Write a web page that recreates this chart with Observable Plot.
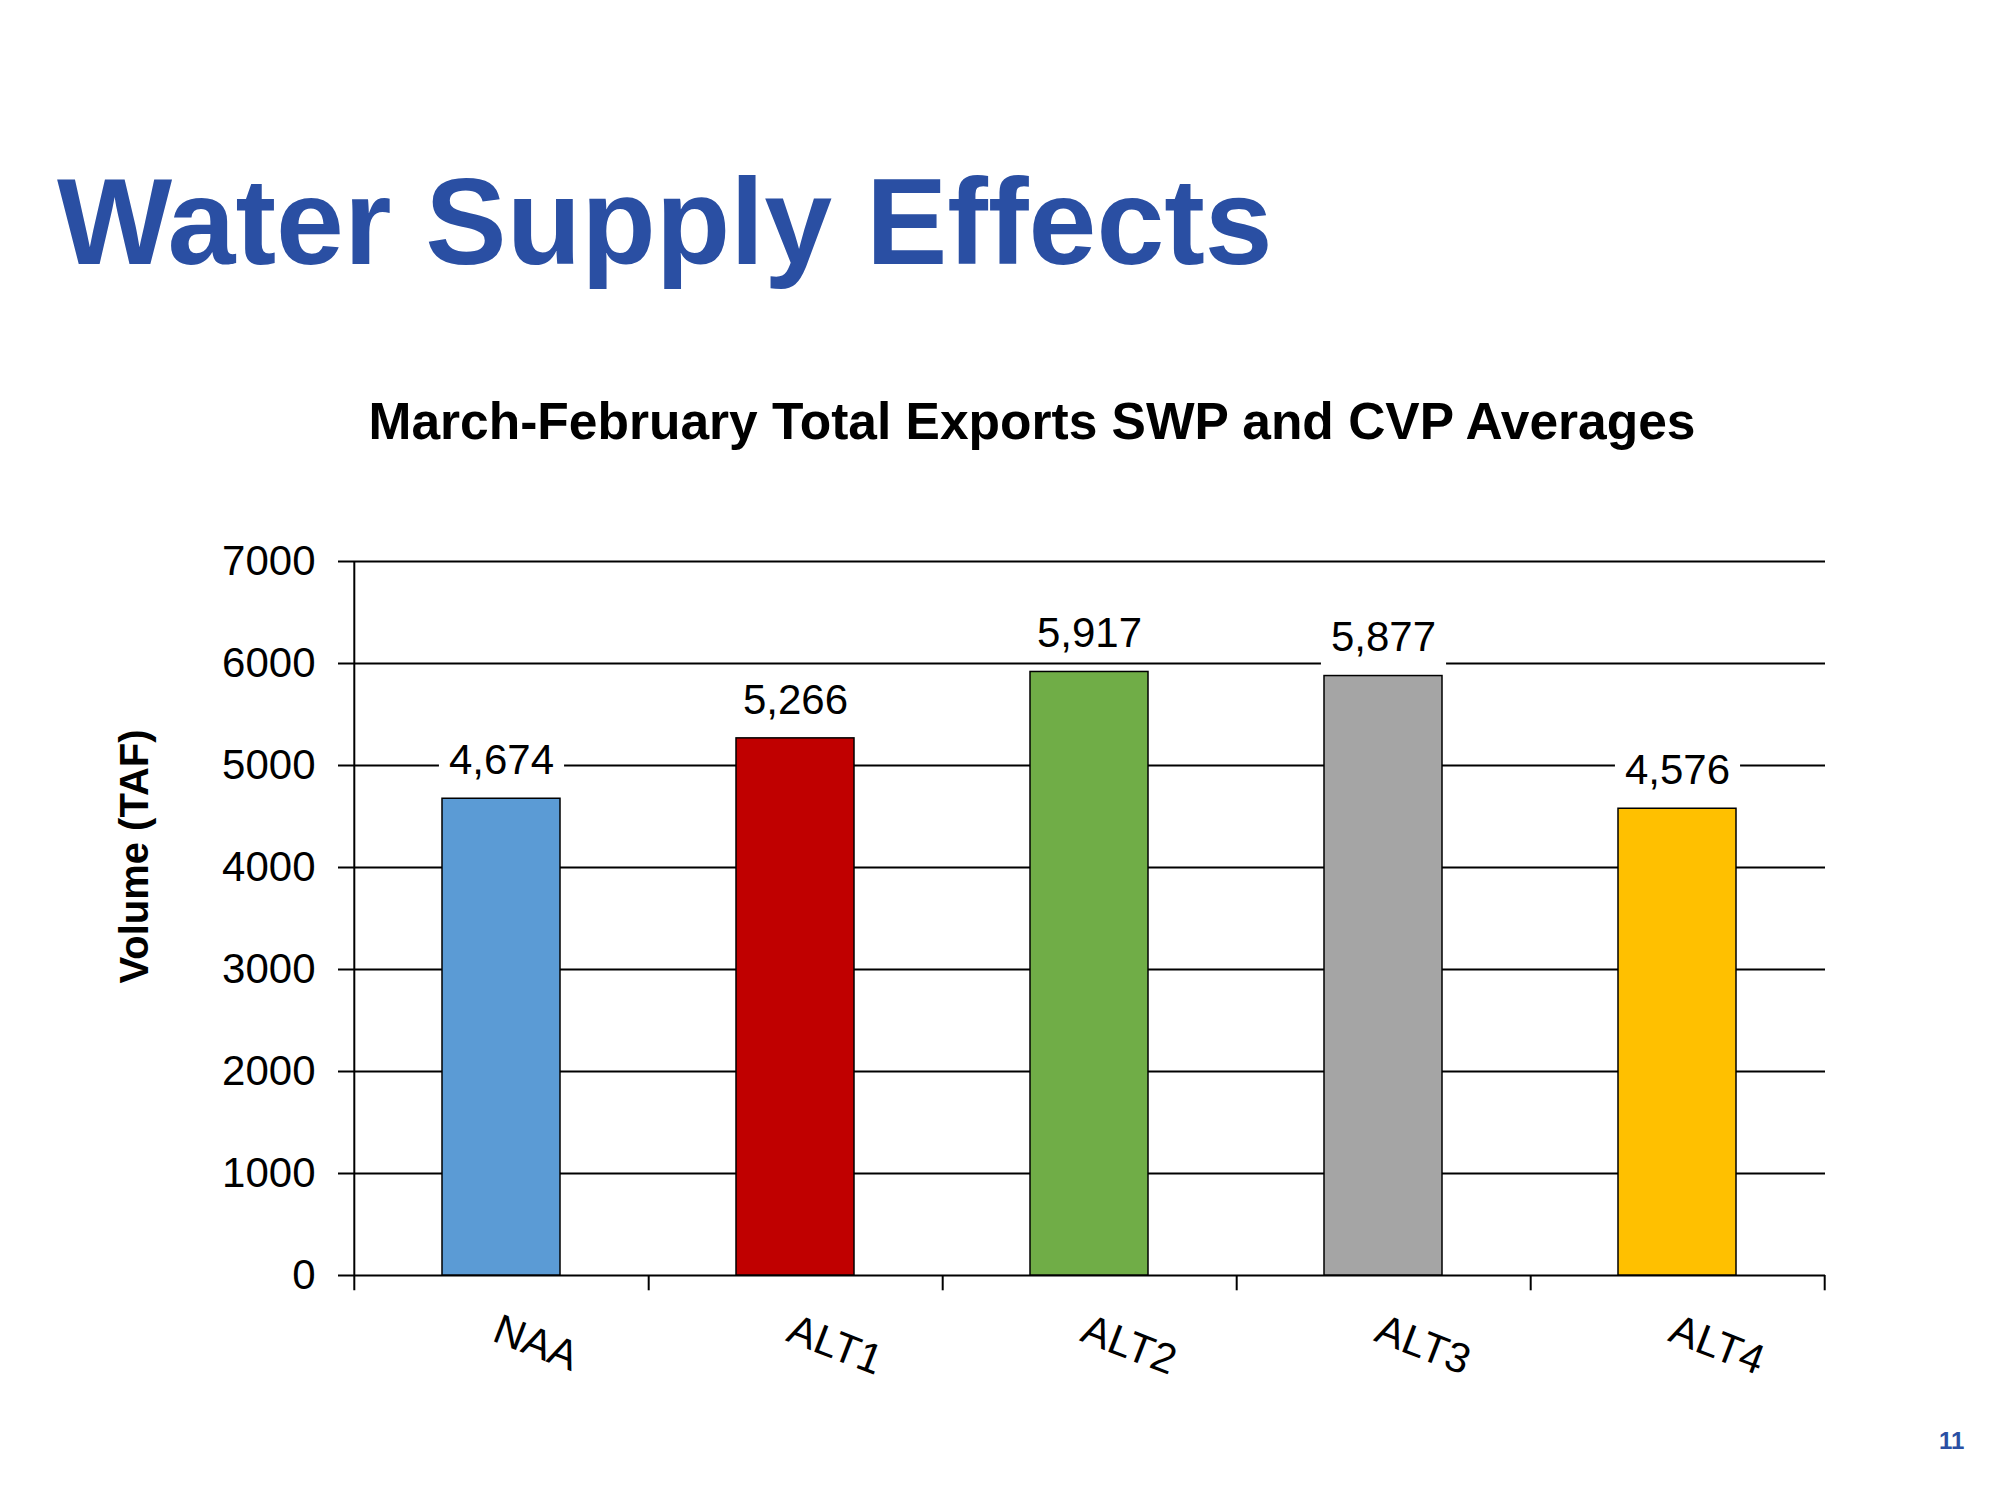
<!DOCTYPE html>
<html>
<head>
<meta charset="utf-8">
<script src="https://cdn.jsdelivr.net/npm/d3@7"></script>
<script src="https://cdn.jsdelivr.net/npm/@observablehq/plot@0.6"></script>
<style>
  html, body { margin: 0; padding: 0; background: #fff; overflow: hidden; }
  #page { position: relative; width: 2000px; height: 1500px; background: #fff; font-family: "Liberation Sans", Arial, sans-serif; }
  .title { position: absolute; left: 57px; top: 161px; font-size: 122px; line-height: 1; font-weight: bold; color: #2A4FA3; white-space: nowrap; }
  .subtitle { position: absolute; left: 1032px; top: 396px; transform: translateX(-50%); font-size: 51.5px; line-height: 1; font-weight: bold; color: #000; white-space: nowrap; }
  .pagenum { position: absolute; left: 1939px; top: 1429px; font-size: 24px; line-height: 1; font-weight: bold; color: #2A4FA3; }
  #chart { position: absolute; left: 0; top: 0; }
</style>
</head>
<body>
<div id="page">
  <div id="chart"></div>
  <div class="title">Water Supply Effects</div>
  <div class="subtitle">March-February Total Exports SWP and CVP Averages</div>
  <div class="pagenum">11</div>
</div>
<script>
const categories = ["NAA", "ALT1", "ALT2", "ALT3", "ALT4"];
const values = [4674, 5266, 5917, 5877, 4576];
const colors = ["#5B9BD5", "#C00000", "#70AD47", "#A5A5A5", "#FFC000"];
const yTicks = [0, 1000, 2000, 3000, 4000, 5000, 6000, 7000];
const yLabel = "Volume (TAF)";

const data = categories.map((c, i) => ({cat: c, value: values[i], color: colors[i]}));
const fmt = d3.format(",");
const labelStrings = new Set(values.map(v => fmt(v)));

const W = 2000, H = 1500;
const mL = 353, mR = 175, mT = 561, mB = 225;
const step = (W - mL - mR) / categories.length;
const font = "Liberation Sans, Arial, sans-serif";

const chart = Plot.plot({
  width: W,
  height: H,
  marginLeft: mL,
  marginRight: mR,
  marginTop: mT,
  marginBottom: mB,
  style: {fontFamily: font, color: "black", background: "transparent", overflow: "visible"},
  x: {domain: categories, paddingInner: 0.6, paddingOuter: 0.3, axis: null},
  y: {domain: [0, 7000], axis: null},
  color: {domain: categories, range: colors},
  marks: [
    Plot.ruleY(yTicks, {stroke: "black", strokeWidth: 2}),
    Plot.axisY(yTicks, {tickSize: 15, tickPadding: 23, fontSize: 42, tickFormat: d => String(d), label: null, stroke: "black", strokeWidth: 2}),
    Plot.ruleX([categories[0]], {x: d => d, dx: -step / 2, y1: -150, y2: 7000, stroke: "black", strokeWidth: 2}),
    Plot.ruleX(categories, {x: d => d, dx: step / 2, y1: -150, y2: 0, stroke: "black", strokeWidth: 2}),
    Plot.barY(data, {x: "cat", y: "value", fill: "cat", stroke: "black", strokeWidth: 1.5}),
    Plot.text(data, {x: "cat", y: "value", text: d => fmt(d.value), dy: -38, fontSize: 42, fill: "black", lineAnchor: "middle"}),
    Plot.text(categories, {x: d => d, frameAnchor: "bottom", dy: 37, rotate: 21, textAnchor: "start", lineAnchor: "top", fontSize: 42, fill: "black"}),
    Plot.text([yLabel], {frameAnchor: "left", textAnchor: "middle", dx: -218, dy: -62, rotate: -90, fontSize: 40, fontWeight: "bold", fill: "black"})
  ]
});
document.getElementById("chart").appendChild(chart);

// white boxes behind the value labels (sized from the rendered text)
chart.querySelectorAll("text").forEach(t => {
  if (!labelStrings.has(t.textContent.trim())) return;
  const b = t.getBBox();
  const r = document.createElementNS("http://www.w3.org/2000/svg", "rect");
  r.setAttribute("x", b.x - 10);
  r.setAttribute("y", b.y - 5);
  r.setAttribute("width", b.width + 20);
  r.setAttribute("height", b.height + 10);
  r.setAttribute("fill", "white");
  const tr = t.getAttribute("transform");
  if (tr) r.setAttribute("transform", tr);
  t.parentNode.insertBefore(r, t);
});
</script>
</body>
</html>
